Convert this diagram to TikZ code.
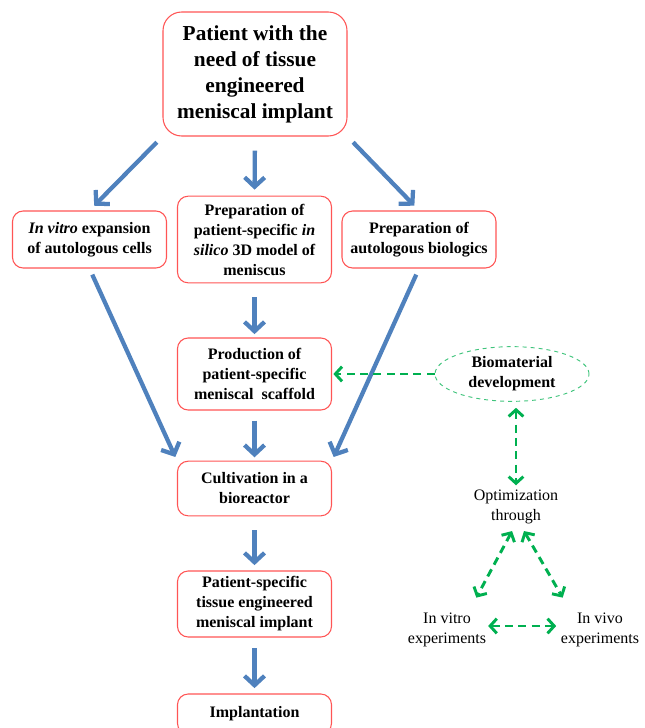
\documentclass[tikz,border=0pt]{standalone}
\usepackage{fontspec}
\setmainfont{Liberation Serif}
\usepackage{xcolor}
\usetikzlibrary{shapes,arrows.meta,positioning}

\definecolor{boxred}{RGB}{255,85,85}
\definecolor{flowblue}{RGB}{79,129,189}
\definecolor{loopgreen}{RGB}{0,176,80}

\begin{document}
\begin{tikzpicture}[
        x=0.75pt, y=-0.75pt,
        patient/.style={rectangle, rounded corners=14pt, draw=boxred, line width=0.8pt, fill=white, minimum width=138pt, minimum height=93pt, align=center, font={\fontsize{16}{19.5}\selectfont\bfseries}},
        stage/.style={rectangle, rounded corners=8pt, draw=boxred, line width=0.8pt, fill=white, minimum width=115.5pt, inner sep=3pt, align=center, font={\fontsize{12}{15}\selectfont\bfseries}},
        biomat/.style={ellipse, draw=loopgreen!75, dashed, line width=0.7pt, minimum width=115.5pt, minimum height=41pt, inner sep=0pt, align=center, font={\fontsize{12}{15}\selectfont\bfseries}},
        plain/.style={align=center, font={\fontsize{12}{15}\selectfont}},
        arrow/.style={line width=3.2pt, draw=flowblue, -{Straight Barb[length=7pt,width=15pt]}},
        link/.style={line width=2.2pt, draw=loopgreen, dash pattern=on 6pt off 4pt, >={Straight Barb[length=5pt,width=11pt]}}
    ]
        \clip (0,0) rectangle (644,728);

        % Main flow
        \node[patient] (patient) at (255,74) {Patient with the\\need of tissue\\engineered\\meniscal implant};
        \node[stage, minimum height=42.75pt] (expansion) at (89.5,239.5) {\textit{In vitro} expansion\\of autologous cells};
        \node[stage, minimum height=65pt] (model) at (254.5,239.5) {Preparation of\\patient-specific \textit{in}\\\textit{silico} 3D model of\\meniscus};
        \node[stage, minimum height=42.75pt] (biologics) at (419,239.5) {Preparation of\\autologous biologics};
        \node[stage, minimum height=54pt] (scaffold) at (254.5,374) {Production of\\patient-specific\\meniscal~~scaffold};
        \node[stage, minimum height=41pt] (bioreactor) at (254.5,488.5) {Cultivation in a\\bioreactor};
        \node[stage, minimum height=49.5pt] (implant) at (254.5,604) {Patient-specific\\tissue engineered\\meniscal implant};
        \node[stage, minimum height=30pt] (implantation) at (254.5,714) {Implantation};

        % Optimization loop
        \node[biomat] (biomat) at (512,374) {Biomaterial\\development};
        \node[plain] (optim) at (516,507) {Optimization\\through};
        \node[plain] (vitroexp) at (447,630) {In vitro\\experiments};
        \node[plain] (vivoexp) at (600,630) {In vivo\\experiments};

        % Connections for main flow
        \draw[arrow, shorten <=6pt, shorten >=5pt] (patient.south west) -- (expansion.north);
        \draw[arrow, shorten <=10.5pt, shorten >=4.5pt] (patient.south) -- (model.north);
        \draw[arrow, shorten <=6pt, shorten >=5pt] (patient.south east) -- (biologics.north);
        \draw[arrow, shorten <=10.5pt, shorten >=2.5pt] (model.south) -- (scaffold.north);
        \draw[arrow, shorten <=7.5pt, shorten >=2.5pt] (scaffold.south) -- (bioreactor.north);
        \draw[arrow, shorten <=5pt, shorten >=3pt] (expansion.south) -- (bioreactor.north west);
        \draw[arrow, shorten <=5pt, shorten >=3pt] (biologics.south) -- (bioreactor.north east);
        \draw[arrow, shorten <=10.5pt, shorten >=4pt] (bioreactor.south) -- (implant.north);
        \draw[arrow, shorten <=8pt, shorten >=4pt] (implant.south) -- (implantation.north);

        % Connections for optimization loop
        \draw[link, ->, shorten >=1pt] (biomat.west) -- (scaffold.east);
        \draw[link, <->, shorten <=4.5pt] (optim.north |- biomat.south) -- (optim.north);
        \draw[link, <->, shorten <=2pt] ([xshift=-2pt]optim.south) -- ([xshift=22pt,yshift=8pt]vitroexp.north);
        \draw[link, <->, shorten <=2pt] ([xshift=5pt]optim.south) -- ([xshift=-28pt,yshift=8pt]vivoexp.north);
        \draw[link, <->] ([xshift=-2pt,yshift=3pt]vitroexp.east) -- ([yshift=3pt]vivoexp.west);
    \end{tikzpicture}
\end{document}
